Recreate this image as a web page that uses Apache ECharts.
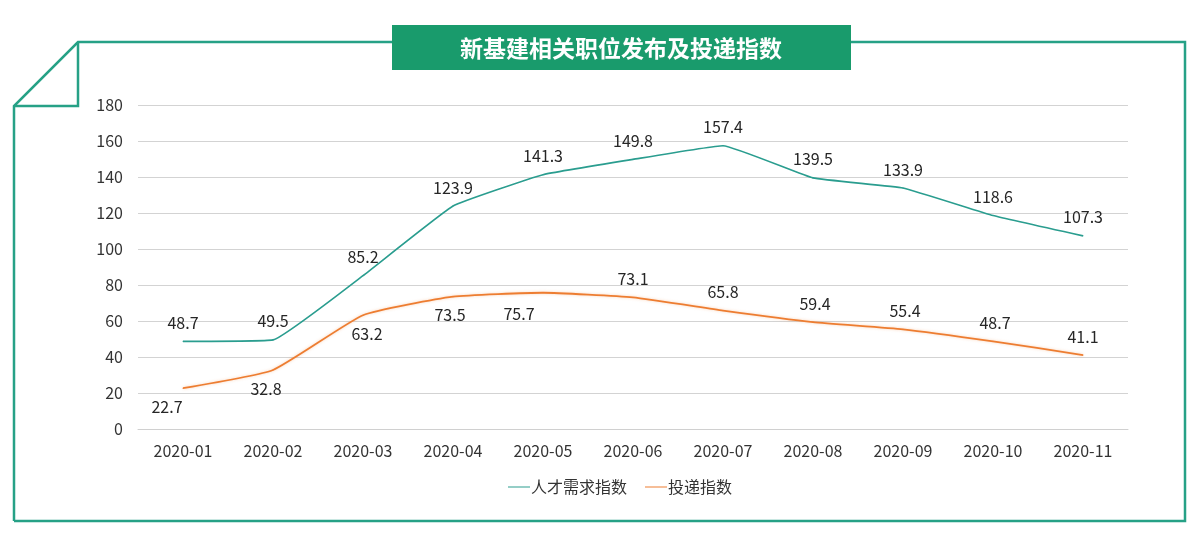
<!DOCTYPE html>
<html>
<head>
<meta charset="utf-8">
<script src="https://cdn.jsdelivr.net/npm/echarts@6/dist/echarts.min.js"></script>
<style>
html,body{margin:0;padding:0;background:#ffffff;}
#chart{width:1200px;height:536px;}
</style>
</head>
<body>
<div id="chart"></div>
<script>
var categories = ['2020-01','2020-02','2020-03','2020-04','2020-05','2020-06','2020-07','2020-08','2020-09','2020-10','2020-11'];
var demandIndex = [48.7, 49.5, 85.2, 123.9, 141.3, 149.8, 157.4, 139.5, 133.9, 118.6, 107.3];
var applyIndex = [22.7, 32.8, 63.2, 73.5, 75.7, 73.1, 65.8, 59.4, 55.4, 48.7, 41.1];
var seriesNames = ['人才需求指数', '投递指数'];
var titleText = '新基建相关职位发布及投递指数';

var FONT = '"Noto Sans CJK SC", "Noto Sans", sans-serif';
var TEAL = '#2a9d8f';
var ORANGE = '#ed7d31';
var FRAME = '#26a186';

// label placement for the orange series (style only)
var applyLabelPos = ['bottom','bottom','bottom','bottom','bottom','top','top','top','top','top','top'];
var applyLabelOffset = [[-16,0],[-7,0],[4,0],[-3,0],[-24,3],[0,0],[0,0],[2,0],[2,0],[2,0],[0,0]];

var applyData = applyIndex.map(function(v, i){
  return { value: v, label: { position: applyLabelPos[i], offset: applyLabelOffset[i] } };
});

var chart = echarts.init(document.getElementById('chart'), null, {renderer:'canvas'});
var option = {
  backgroundColor: '#ffffff',
  animation: false,
  grid: { left: 138, right: 72, top: 105, bottom: 107 },
  legend: {
    data: seriesNames,
    bottom: 36,
    left: 503,
    itemWidth: 22,
    itemHeight: 10,
    itemGap: 18,
    icon: 'path://M0,4.5 L22,4.5 L22,5.5 L0,5.5 Z',
    textStyle: { fontFamily: FONT, fontSize: 16, color: '#333333', padding:[0,0,0,-4] }
  },
  xAxis: {
    type: 'category',
    data: categories,
    boundaryGap: true,
    axisLine: { show: true, lineStyle: { color: '#d0d0d0', width: 1 } },
    axisTick: { show: false },
    axisLabel: { margin: 14, fontFamily: FONT, fontSize: 16, color: '#333333' }
  },
  yAxis: {
    type: 'value',
    min: 0, max: 180, interval: 20,
    axisLine: { show: false },
    axisTick: { show: false },
    splitLine: { lineStyle: { color: '#d3d3d3', width: 1 } },
    axisLabel: { margin: 15, fontFamily: FONT, fontSize: 16, color: '#333333' }
  },
  series: [
    {
      name: seriesNames[0],
      type: 'line',
      data: demandIndex,
      smooth: 0.1,
      symbol: 'circle',
      symbolSize: 1,
      itemStyle: { color: TEAL },
      lineStyle: { color: TEAL, width: 1.6 },
      label: { show: true, position: 'top', distance: 10, fontFamily: FONT, fontSize: 16, color: '#262626' }
    },
    {
      name: seriesNames[1],
      type: 'line',
      data: applyData,
      smooth: 0.15,
      symbol: 'circle',
      symbolSize: 1,
      itemStyle: { color: ORANGE },
      lineStyle: { color: ORANGE, width: 1.8, shadowColor: 'rgba(237,125,49,0.35)', shadowBlur: 3 },
      label: { show: true, distance: 10, fontFamily: FONT, fontSize: 16, color: '#262626' }
    }
  ],
  graphic: [
    { type: 'polyline', z: 10, shape: { points: [[14,521],[14,106],[78,42],[1185,42],[1185,521],[14,521]] },
      style: { stroke: FRAME, lineWidth: 2.5, fill: null } },
    { type: 'polyline', z: 10, shape: { points: [[14,106],[78,106],[78,42]] },
      style: { stroke: FRAME, lineWidth: 2.5, fill: null } },
    { type: 'rect', z: 11, shape: { x: 392, y: 25, width: 459, height: 45 },
      style: { fill: '#199b6c' } },
    { type: 'text', z: 12, x: 621, y: 48,
      style: { text: titleText, fill: '#ffffff', font: 'bold 23px ' + FONT, align: 'center', verticalAlign: 'middle' } }
  ]
};
chart.setOption(option);
</script>
</body>
</html>
